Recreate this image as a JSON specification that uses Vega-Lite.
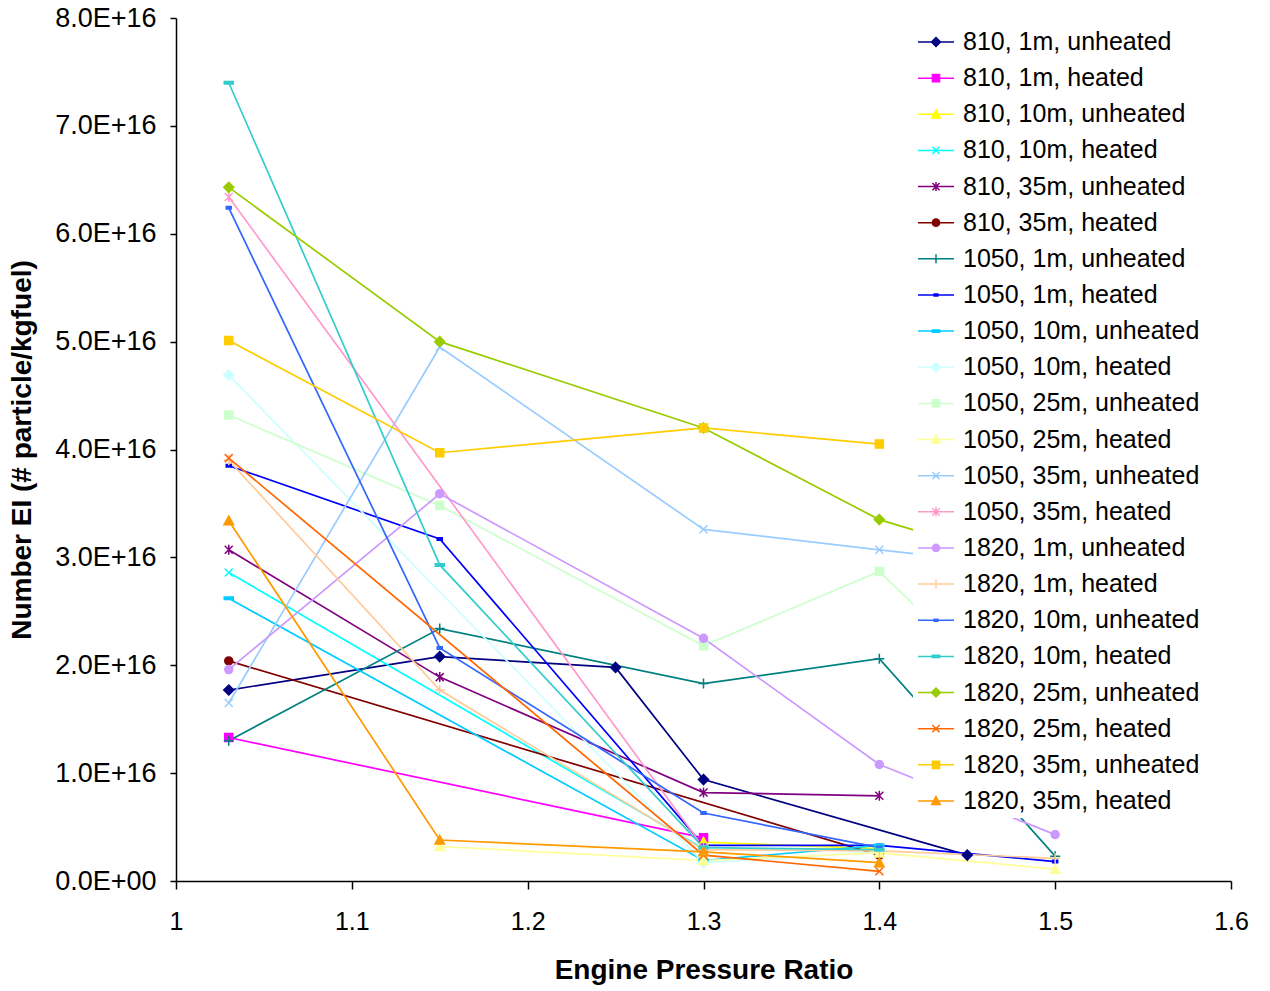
{
  "$schema": "https://vega.github.io/schema/vega-lite/v6.json",
  "width": 1055,
  "height": 863,
  "autosize": "none",
  "padding": {"left": 176, "top": 18, "right": 39, "bottom": 110},
  "background": "white",
  "config": {
    "view": {"stroke": null},
    "font": "Liberation Sans",
    "axis": {"grid": false, "labelFlush": false, "domainColor": "black", "tickColor": "black", "domainWidth": 1.5, "tickWidth": 1.5, "labelColor": "black", "titleColor": "black", "labelFont": "Liberation Sans", "titleFont": "Liberation Sans", "labelFontSize": 25, "titleFontSize": 28, "titleFontWeight": "bold"}
  },
  "resolve": {"scale": {"shape": "independent", "stroke": "independent"}},
  "data": {
    "values": [
      {"series": "810, 1m, unheated", "epr": 1.03, "ei": 1.77e16},
      {"series": "810, 1m, unheated", "epr": 1.15, "ei": 2.08e16},
      {"series": "810, 1m, unheated", "epr": 1.25, "ei": 1.98e16},
      {"series": "810, 1m, unheated", "epr": 1.3, "ei": 0.94e16},
      {"series": "810, 1m, unheated", "epr": 1.45, "ei": 0.24e16},
      {"series": "810, 1m, heated", "epr": 1.03, "ei": 1.33e16},
      {"series": "810, 1m, heated", "epr": 1.3, "ei": 0.40e16},
      {"series": "810, 10m, unheated", "epr": 1.3, "ei": 0.36e16},
      {"series": "810, 10m, unheated", "epr": 1.4, "ei": 0.30e16},
      {"series": "810, 10m, heated", "epr": 1.03, "ei": 2.86e16},
      {"series": "810, 10m, heated", "epr": 1.3, "ei": 0.30e16},
      {"series": "810, 35m, unheated", "epr": 1.03, "ei": 3.07e16},
      {"series": "810, 35m, unheated", "epr": 1.15, "ei": 1.89e16},
      {"series": "810, 35m, unheated", "epr": 1.3, "ei": 0.82e16},
      {"series": "810, 35m, unheated", "epr": 1.4, "ei": 0.79e16},
      {"series": "810, 35m, heated", "epr": 1.03, "ei": 2.04e16},
      {"series": "810, 35m, heated", "epr": 1.4, "ei": 0.24e16},
      {"series": "1050, 1m, unheated", "epr": 1.03, "ei": 1.30e16},
      {"series": "1050, 1m, unheated", "epr": 1.15, "ei": 2.34e16},
      {"series": "1050, 1m, unheated", "epr": 1.3, "ei": 1.83e16},
      {"series": "1050, 1m, unheated", "epr": 1.4, "ei": 2.06e16},
      {"series": "1050, 1m, unheated", "epr": 1.5, "ei": 0.23e16},
      {"series": "1050, 1m, heated", "epr": 1.03, "ei": 3.85e16},
      {"series": "1050, 1m, heated", "epr": 1.15, "ei": 3.17e16},
      {"series": "1050, 1m, heated", "epr": 1.3, "ei": 0.33e16},
      {"series": "1050, 1m, heated", "epr": 1.4, "ei": 0.33e16},
      {"series": "1050, 1m, heated", "epr": 1.5, "ei": 0.18e16},
      {"series": "1050, 10m, unheated", "epr": 1.03, "ei": 2.62e16},
      {"series": "1050, 10m, unheated", "epr": 1.3, "ei": 0.19e16},
      {"series": "1050, 10m, unheated", "epr": 1.4, "ei": 0.33e16},
      {"series": "1050, 10m, heated", "epr": 1.03, "ei": 4.69e16},
      {"series": "1050, 10m, heated", "epr": 1.3, "ei": 0.17e16},
      {"series": "1050, 10m, heated", "epr": 1.4, "ei": 0.27e16},
      {"series": "1050, 25m, unheated", "epr": 1.03, "ei": 4.32e16},
      {"series": "1050, 25m, unheated", "epr": 1.15, "ei": 3.48e16},
      {"series": "1050, 25m, unheated", "epr": 1.3, "ei": 2.18e16},
      {"series": "1050, 25m, unheated", "epr": 1.4, "ei": 2.87e16},
      {"series": "1050, 25m, unheated", "epr": 1.5, "ei": 1.30e16},
      {"series": "1050, 25m, heated", "epr": 1.15, "ei": 0.32e16},
      {"series": "1050, 25m, heated", "epr": 1.3, "ei": 0.19e16},
      {"series": "1050, 25m, heated", "epr": 1.4, "ei": 0.26e16},
      {"series": "1050, 25m, heated", "epr": 1.5, "ei": 0.11e16},
      {"series": "1050, 35m, unheated", "epr": 1.03, "ei": 1.65e16},
      {"series": "1050, 35m, unheated", "epr": 1.15, "ei": 4.95e16},
      {"series": "1050, 35m, unheated", "epr": 1.3, "ei": 3.26e16},
      {"series": "1050, 35m, unheated", "epr": 1.4, "ei": 3.07e16},
      {"series": "1050, 35m, unheated", "epr": 1.5, "ei": 2.89e16},
      {"series": "1050, 35m, heated", "epr": 1.03, "ei": 6.34e16},
      {"series": "1050, 35m, heated", "epr": 1.3, "ei": 0.31e16},
      {"series": "1820, 1m, unheated", "epr": 1.03, "ei": 1.96e16},
      {"series": "1820, 1m, unheated", "epr": 1.15, "ei": 3.59e16},
      {"series": "1820, 1m, unheated", "epr": 1.3, "ei": 2.25e16},
      {"series": "1820, 1m, unheated", "epr": 1.4, "ei": 1.08e16},
      {"series": "1820, 1m, unheated", "epr": 1.5, "ei": 0.43e16},
      {"series": "1820, 1m, heated", "epr": 1.03, "ei": 3.90e16},
      {"series": "1820, 1m, heated", "epr": 1.15, "ei": 1.77e16},
      {"series": "1820, 1m, heated", "epr": 1.3, "ei": 0.29e16},
      {"series": "1820, 1m, heated", "epr": 1.4, "ei": 0.28e16},
      {"series": "1820, 1m, heated", "epr": 1.5, "ei": 0.21e16},
      {"series": "1820, 10m, unheated", "epr": 1.03, "ei": 6.24e16},
      {"series": "1820, 10m, unheated", "epr": 1.15, "ei": 2.16e16},
      {"series": "1820, 10m, unheated", "epr": 1.3, "ei": 0.63e16},
      {"series": "1820, 10m, unheated", "epr": 1.4, "ei": 0.31e16},
      {"series": "1820, 10m, heated", "epr": 1.03, "ei": 7.40e16},
      {"series": "1820, 10m, heated", "epr": 1.15, "ei": 2.93e16},
      {"series": "1820, 10m, heated", "epr": 1.3, "ei": 0.31e16},
      {"series": "1820, 10m, heated", "epr": 1.4, "ei": 0.29e16},
      {"series": "1820, 25m, unheated", "epr": 1.03, "ei": 6.43e16},
      {"series": "1820, 25m, unheated", "epr": 1.15, "ei": 5.00e16},
      {"series": "1820, 25m, unheated", "epr": 1.3, "ei": 4.20e16},
      {"series": "1820, 25m, unheated", "epr": 1.4, "ei": 3.35e16},
      {"series": "1820, 25m, unheated", "epr": 1.5, "ei": 2.86e16},
      {"series": "1820, 25m, heated", "epr": 1.03, "ei": 3.92e16},
      {"series": "1820, 25m, heated", "epr": 1.3, "ei": 0.24e16},
      {"series": "1820, 25m, heated", "epr": 1.4, "ei": 0.09e16},
      {"series": "1820, 35m, unheated", "epr": 1.03, "ei": 5.01e16},
      {"series": "1820, 35m, unheated", "epr": 1.15, "ei": 3.97e16},
      {"series": "1820, 35m, unheated", "epr": 1.3, "ei": 4.20e16},
      {"series": "1820, 35m, unheated", "epr": 1.4, "ei": 4.05e16},
      {"series": "1820, 35m, heated", "epr": 1.03, "ei": 3.34e16},
      {"series": "1820, 35m, heated", "epr": 1.15, "ei": 0.38e16},
      {"series": "1820, 35m, heated", "epr": 1.3, "ei": 0.27e16},
      {"series": "1820, 35m, heated", "epr": 1.4, "ei": 0.17e16}
    ]
  },
  "encoding": {
    "x": {"field": "epr", "type": "quantitative", "scale": {"domain": [1, 1.6], "nice": false, "zero": false},
      "axis": {"title": "Engine Pressure Ratio", "values": [1, 1.1, 1.2, 1.3, 1.4, 1.5, 1.6], "format": ".1~f", "tickSize": 8, "labelPadding": 20, "titlePadding": 22}},
    "y": {"field": "ei", "type": "quantitative", "scale": {"domain": [0, 8e16], "nice": false},
      "axis": {"title": "Number EI (# particle/kgfuel)", "values": [0, 1e16, 2e16, 3e16, 4e16, 5e16, 6e16, 7e16, 8e16], "labelExpr": "datum.value == 0 ? '0.0E+00' : replace(format(datum.value, '.1e'), 'e', 'E')", "labelFontSize": 27, "tickSize": 6, "labelPadding": 14, "titlePadding": 18}}
  },
  "layer": [
    {
      "mark": {"type": "line", "strokeWidth": 1.7},
      "encoding": {
        "color": {"field": "series", "type": "nominal",
          "scale": {"domain": ["810, 1m, unheated", "810, 1m, heated", "810, 10m, unheated", "810, 10m, heated", "810, 35m, unheated", "810, 35m, heated", "1050, 1m, unheated", "1050, 1m, heated", "1050, 10m, unheated", "1050, 10m, heated", "1050, 25m, unheated", "1050, 25m, heated", "1050, 35m, unheated", "1050, 35m, heated", "1820, 1m, unheated", "1820, 1m, heated", "1820, 10m, unheated", "1820, 10m, heated", "1820, 25m, unheated", "1820, 25m, heated", "1820, 35m, unheated", "1820, 35m, heated"],
            "range": ["#000080", "#FF00FF", "#FFFF00", "#00FFFF", "#800080", "#800000", "#008080", "#0000FF", "#00CCFF", "#CCFFFF", "#CCFFCC", "#FFFF99", "#99CCFF", "#FF99CC", "#CC99FF", "#FFCC99", "#3366FF", "#33CCCC", "#99CC00", "#FF6600", "#FFCC00", "#FF9900"]},
          "legend": {
            "title": null, "orient": "none", "legendX": 737, "legendY": 1, "padding": 4,
            "fillColor": "white", "labelFont": "Liberation Sans", "labelFontSize": 25, "labelColor": "black",
            "symbolSize": 1296, "rowPadding": 4.14, "labelOffset": 8, "symbolStrokeWidth": 1.5, "labelLimit": 400,
            "encode": {"symbols": {"update": {
              "shape": {"signal": "['M-1,0H1M0,-0.25L0.25,0L0,0.25L-0.25,0Z','M-1,0H1M-0.2,-0.2H0.2V0.2H-0.2Z','M-1,0H1M0,-0.24L0.24,0.2H-0.24Z','M-1,0H1M-0.2,-0.2L0.2,0.2M-0.2,0.2L0.2,-0.2','M-1,0H1M-0.2,-0.2L0.2,0.2M-0.2,0.2L0.2,-0.2M0,-0.25V0.25','M-1,0H1M0.2,0A0.2,0.2 0 1,1 -0.2,0A0.2,0.2 0 1,1 0.2,0Z','M-1,0H1M0,-0.25V0.25','M-1,0H1M-0.1,-0.06H0.1V0.06H-0.1Z','M-1,0H1M-0.2,-0.06H0.2V0.06H-0.2Z'][[0,1,2,3,4,5,6,7,8,0,1,2,3,4,5,6,7,8,0,3,1,2][indexof(['810, 1m, unheated','810, 1m, heated','810, 10m, unheated','810, 10m, heated','810, 35m, unheated','810, 35m, heated','1050, 1m, unheated','1050, 1m, heated','1050, 10m, unheated','1050, 10m, heated','1050, 25m, unheated','1050, 25m, heated','1050, 35m, unheated','1050, 35m, heated','1820, 1m, unheated','1820, 1m, heated','1820, 10m, unheated','1820, 10m, heated','1820, 25m, unheated','1820, 25m, heated','1820, 35m, unheated','1820, 35m, heated'], datum.value)]]"},
              "fill": {"scale": "color", "field": "value"},
              "stroke": {"scale": "color", "field": "value"},
              "strokeWidth": {"value": 1.5},
              "opacity": {"value": 1}
            }}}
          }
        }
      }
    },
    {
      "mark": {"type": "point", "filled": true, "size": 100, "strokeWidth": 1.5, "opacity": 1},
      "encoding": {
        "color": {"field": "series", "type": "nominal", "legend": null},
        "stroke": {"field": "series", "type": "nominal", "legend": null,
          "scale": {"domain": ["810, 1m, unheated", "810, 1m, heated", "810, 10m, unheated", "810, 10m, heated", "810, 35m, unheated", "810, 35m, heated", "1050, 1m, unheated", "1050, 1m, heated", "1050, 10m, unheated", "1050, 10m, heated", "1050, 25m, unheated", "1050, 25m, heated", "1050, 35m, unheated", "1050, 35m, heated", "1820, 1m, unheated", "1820, 1m, heated", "1820, 10m, unheated", "1820, 10m, heated", "1820, 25m, unheated", "1820, 25m, heated", "1820, 35m, unheated", "1820, 35m, heated"],
            "range": ["#000080", "#FF00FF", "#FFFF00", "#00FFFF", "#800080", "#800000", "#008080", "#0000FF", "#00CCFF", "#CCFFFF", "#CCFFCC", "#FFFF99", "#99CCFF", "#FF99CC", "#CC99FF", "#FFCC99", "#3366FF", "#33CCCC", "#99CC00", "#FF6600", "#FFCC00", "#FF9900"]}},
        "shape": {"field": "series", "type": "nominal", "legend": null,
          "scale": {"domain": ["810, 1m, unheated", "810, 1m, heated", "810, 10m, unheated", "810, 10m, heated", "810, 35m, unheated", "810, 35m, heated", "1050, 1m, unheated", "1050, 1m, heated", "1050, 10m, unheated", "1050, 10m, heated", "1050, 25m, unheated", "1050, 25m, heated", "1050, 35m, unheated", "1050, 35m, heated", "1820, 1m, unheated", "1820, 1m, heated", "1820, 10m, unheated", "1820, 10m, heated", "1820, 25m, unheated", "1820, 25m, heated", "1820, 35m, unheated", "1820, 35m, heated"],
            "range": ["M0,-1L1,0L0,1L-1,0Z", "M-0.8,-0.8H0.8V0.8H-0.8Z", "M0,-0.95L0.95,0.8H-0.95Z", "M-0.8,-0.8L0.8,0.8M-0.8,0.8L0.8,-0.8", "M-0.8,-0.8L0.8,0.8M-0.8,0.8L0.8,-0.8M0,-1V1", "M0.8,0A0.8,0.8 0 1,1 -0.8,0A0.8,0.8 0 1,1 0.8,0Z", "M-1,0H1M0,-1V1", "M-0.5,-0.25H0.5V0.25H-0.5Z", "M-0.9,-0.25H0.9V0.25H-0.9Z", "M0,-1L1,0L0,1L-1,0Z", "M-0.8,-0.8H0.8V0.8H-0.8Z", "M0,-0.95L0.95,0.8H-0.95Z", "M-0.8,-0.8L0.8,0.8M-0.8,0.8L0.8,-0.8", "M-0.8,-0.8L0.8,0.8M-0.8,0.8L0.8,-0.8M0,-1V1", "M0.8,0A0.8,0.8 0 1,1 -0.8,0A0.8,0.8 0 1,1 0.8,0Z", "M-1,0H1M0,-1V1", "M-0.5,-0.25H0.5V0.25H-0.5Z", "M-0.9,-0.25H0.9V0.25H-0.9Z", "M0,-1L1,0L0,1L-1,0Z", "M-0.8,-0.8L0.8,0.8M-0.8,0.8L0.8,-0.8", "M-0.8,-0.8H0.8V0.8H-0.8Z", "M0,-0.95L0.95,0.8H-0.95Z"]}}
      }
    }
  ]
}
